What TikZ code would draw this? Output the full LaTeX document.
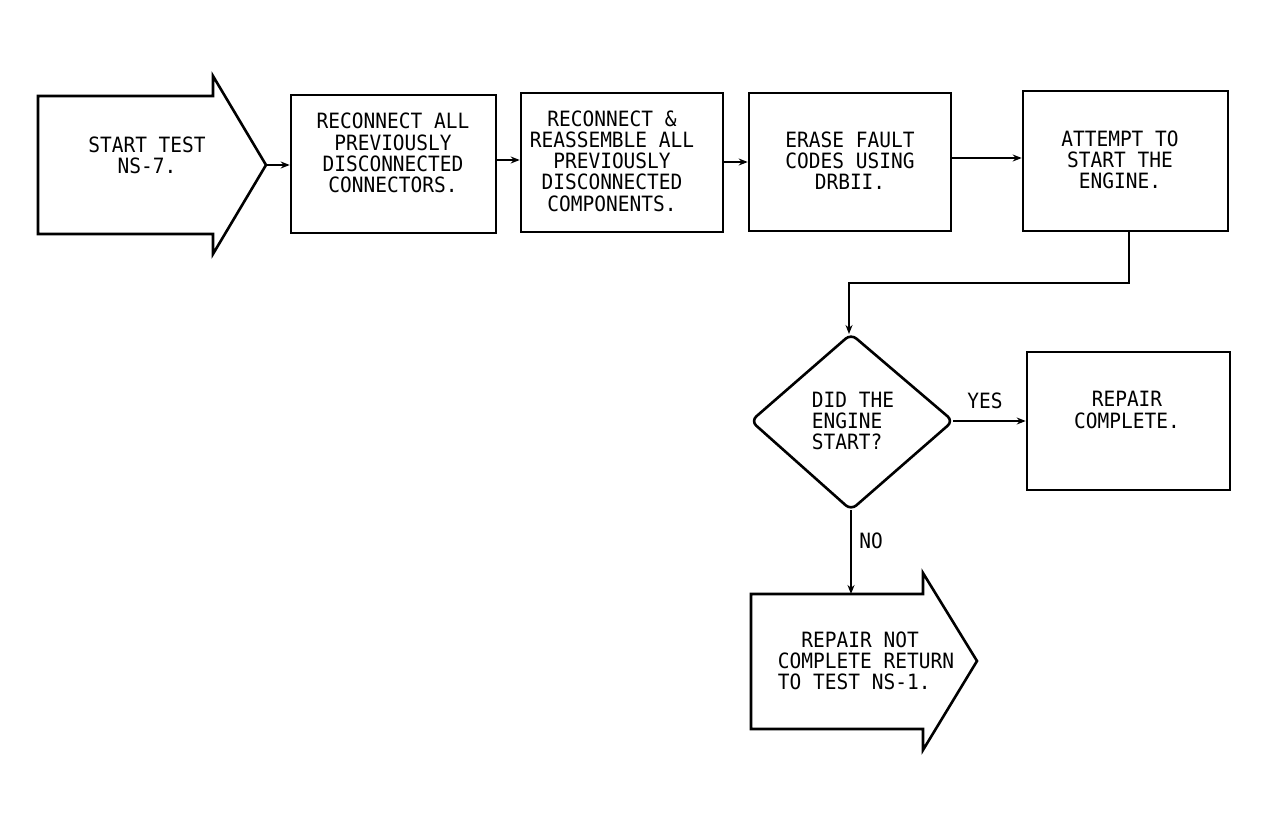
\documentclass[tikz,border=0pt]{standalone}
\usepackage{fontspec}
\setmonofont{DejaVu Sans Mono}
\usetikzlibrary{arrows.meta}
\begin{document}
\begin{tikzpicture}[x=1pt,y=-1pt,
  shapeline/.style={draw=black,line width=2.6pt},
  boxnode/.style={shapeline,rectangle,inner sep=0pt},
  txt/.style={font=\ttfamily\fontsize{19.5}{19.6}\selectfont,align=center,inner sep=0pt,yscale=1.08},
  conn/.style={draw=black,line width=2.2pt,-{Stealth[length=9pt,width=7pt]}},
  lbl/.style={font=\ttfamily\fontsize{19.5}{19.6}\selectfont,inner sep=0pt,yscale=1.08}]
\useasboundingbox[fill=white] (0,0) rectangle (1269,827);
% start arrow
\draw[shapeline,line join=miter] (38,96) -- (213,96) -- (213,76) -- (266,165) -- (213,254) -- (213,234) -- (38,234) -- cycle;
\coordinate (starttip) at (266,165);
\node[txt] (starttxt) at (147,155) {START TEST\\NS-7.};
% boxes
\node[boxnode,minimum width=205pt,minimum height=138pt] (b1) at (393.5,164) {};
\node[txt] (b1t) at (393,153) {RECONNECT ALL\\PREVIOUSLY\\DISCONNECTED\\CONNECTORS.};
\node[boxnode,minimum width=202pt,minimum height=139pt] (b2) at (622,162.5) {};
\node[txt] (b2t) at (612,161) {RECONNECT \&\\REASSEMBLE ALL\\PREVIOUSLY\\DISCONNECTED\\COMPONENTS.};
\node[boxnode,minimum width=202pt,minimum height=138pt] (b3) at (850,162) {};
\node[txt] (b3t) at (850,161) {ERASE FAULT\\CODES USING\\DRBII.};
\node[boxnode,minimum width=205pt,minimum height=140pt] (b4) at (1125.5,161) {};
\node[txt] (b4t) at (1120,160) {ATTEMPT TO\\START THE\\ENGINE.};
% diamond
\draw[shapeline,rounded corners=7pt] (851,334) -- (953,421) -- (851,510) -- (751,421) -- cycle;
\coordinate (dtop) at (851,334);
\coordinate (dright) at (953,421);
\coordinate (dbot) at (851,510);
\node[txt,align=left] (dt) at (853,421) {DID THE\\ENGINE\\START?};
% repair complete
\node[boxnode,minimum width=203pt,minimum height=138pt] (rc) at (1128.5,421) {};
\node[txt] (rct) at (1127,410) {REPAIR\\COMPLETE.};
% end arrow
\draw[shapeline,line join=miter] (751,594) -- (923,594) -- (923,573) -- (977,661) -- (923,750) -- (923,729) -- (751,729) -- cycle;
\coordinate (endtop) at (851,594);
\node[txt,align=left] (et) at (866,661) {\hspace*{23.4pt}REPAIR NOT\\COMPLETE RETURN\\TO TEST NS-1.};
% connectors
\draw[conn] (starttip) -- (starttip -| b1.west);
\draw[conn] (b1.east |- 0,160) -- (b2.west |- 0,160);
\draw[conn] (b2.east |- 0,162) -- (b3.west |- 0,162);
\draw[conn] (b3.east |- 0,158) -- (b4.west |- 0,158);
\draw[conn] (b4.south -| 1129,0) -- (1129,283) -- (849,283) -- (dtop -| 849,0);
\draw[conn] (dright) -- (rc.west |- dright);
\node[lbl] (yes) at (985,401) {YES};
\draw[conn] (dbot) -- (endtop);
\node[lbl] (no) at (871,541) {NO};
\end{tikzpicture}
\end{document}
